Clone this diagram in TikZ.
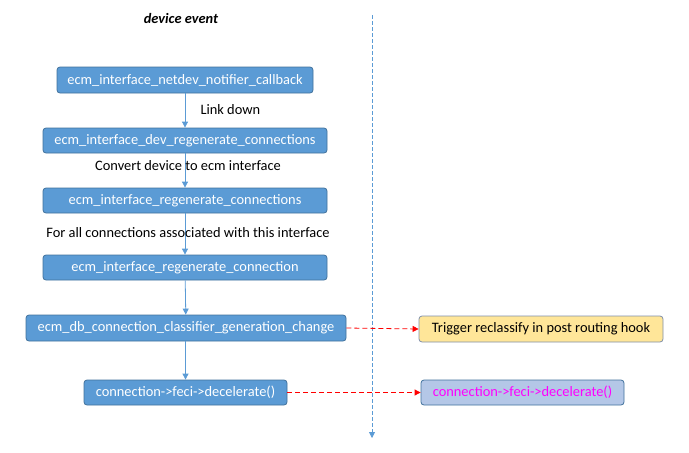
\documentclass[tikz,border=0pt]{standalone}
\usepackage{fontspec}
\setmainfont{Carlito}
\usetikzlibrary{arrows.meta}
\definecolor{boxblue}{HTML}{5B9BD5}
\definecolor{boxedge}{HTML}{41719C}
\definecolor{yel}{HTML}{FFE699}
\definecolor{yeledge}{HTML}{7F8FA9}
\definecolor{lblue}{HTML}{B4C7E7}
\definecolor{mag}{HTML}{FF00FF}
\newcommand{\myfont}{\fontsize{14.4}{16}\selectfont}
\tikzset{
  fn/.style={draw=boxedge, fill=boxblue, rounded corners=3pt, line width=0.8pt, text=white, font=\myfont, anchor=center, inner sep=0pt},
  flow/.style={draw=boxblue, line width=0.8pt, -{Triangle[length=6pt,width=6pt]}},
  lbl/.style={font=\myfont, text=black},
  red/.style={draw=red, dashed, dash pattern=on 5pt off 3pt, line width=0.8pt, -{Triangle[length=6pt,width=6pt]}},
}
\begin{document}
\begin{tikzpicture}[x=1pt,y=-1pt]
\useasboundingbox (0,0) rectangle (689,453);
\node[font=\myfont\bfseries\itshape] (title) at (181,18) {device event};
\node[fn, minimum width=256pt, minimum height=26pt] (b1) at (185,80) {ecm\_interface\_netdev\_notifier\_callback};
\node[fn, minimum width=284pt, minimum height=25pt] (b2) at (185,140.5) {ecm\_interface\_dev\_regenerate\_connections};
\node[fn, minimum width=284pt, minimum height=25pt] (b3) at (185,200.5) {ecm\_interface\_regenerate\_connections};
\node[fn, minimum width=284pt, minimum height=25pt] (b4) at (185,267.5) {ecm\_interface\_regenerate\_connection};
\node[fn, minimum width=320pt, minimum height=26pt] (b5) at (186,328) {ecm\_db\_connection\_classifier\_generation\_change};
\node[fn, minimum width=203pt, minimum height=25pt] (b6) at (185.5,392.5) {connection->feci->decelerate()};
\node[draw=yeledge, fill=yel, rounded corners=3pt, line width=0.8pt, font=\myfont, minimum width=244pt, minimum height=26pt, inner sep=0pt] (y1) at (541,329) {Trigger reclassify in post routing hook};
\node[draw=boxedge, fill=lblue, rounded corners=3pt, line width=0.8pt, text=mag, font=\myfont, minimum width=203pt, minimum height=25pt, inner sep=0pt] (c1) at (522.5,392.5) {connection->feci->decelerate()};
\coordinate (lt) at (372,15);
\coordinate (lb) at (372,438);
\draw[draw=boxblue, line width=0.8pt, dash pattern=on 4pt off 2pt, -{Triangle[length=6pt,width=6pt]}] (lt) -- (lb);
\draw[flow] (b1) -- (b2);
\draw[flow] (b2) -- (b3);
\draw[flow] (b3) -- (b4);
\draw[flow] (b4) -- (b5);
\draw[flow] (b5.south -| b6.north) -- (b6.north);
\node[lbl, anchor=west] (l1) at (197,110) {Link down};
\node[lbl] (l2) at (188,166) {Convert device to ecm interface};
\node[lbl] (l3) at (188,233) {For all connections associated with this interface};
\draw[red] (b5.east) -- (y1.west);
\draw[red] (b6.east) -- (c1.west);
\end{tikzpicture}
\end{document}
